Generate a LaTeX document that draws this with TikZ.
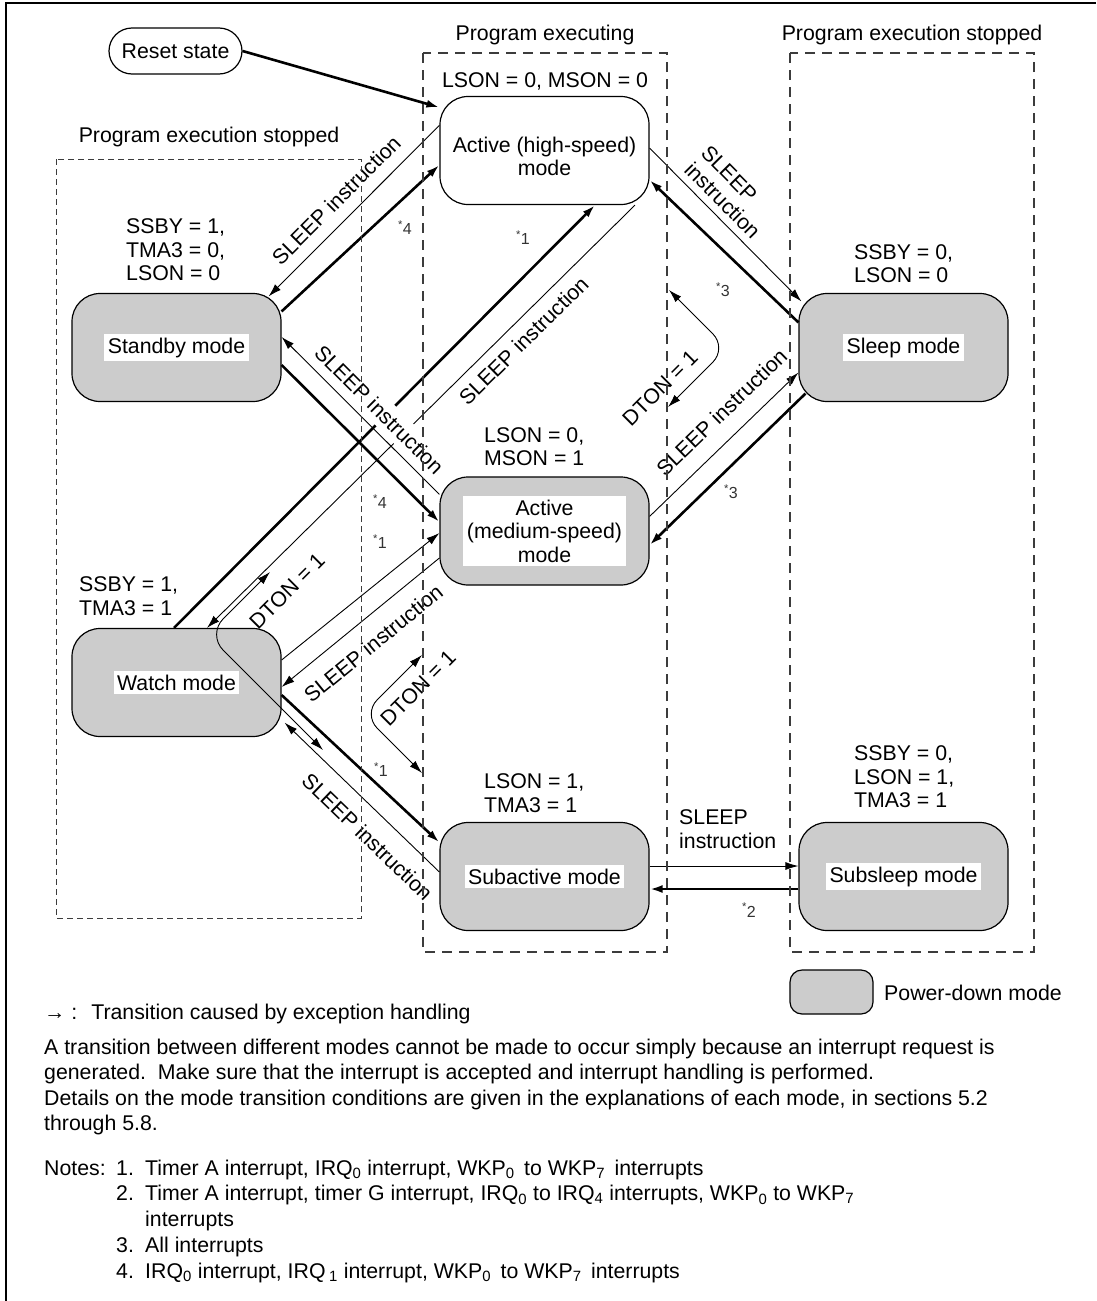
\documentclass[tikz,border=0pt]{standalone}
\usepackage{fontspec}
\setmainfont{Liberation Sans}
\usepackage{xcolor}
\usepackage{tikz}
\usetikzlibrary{arrows.meta}
\definecolor{GrayMode}{RGB}{204,204,204}
\definecolor{GrayZone}{RGB}{60,60,60}

\begin{document}
\fontsize{21.3}{23.5}\selectfont
\begin{tikzpicture}[x=1pt,y=-1pt,>={Latex[length=13pt,width=8pt]},
  modebox/.style={draw,line width=1.2pt,fill=GrayMode,rounded corners=28pt,minimum width=209pt,minimum height=108pt},
  labelbg/.style={fill=white,inner xsep=3.5pt,inner ysep=3.5pt,align=center},
  txt/.style={inner sep=0pt,align=left},
  thinarr/.style={->,line width=0.9pt},
  boldarr/.style={->,line width=2.6pt},
  sleeplbl/.style={sloped,inner sep=1pt},
  starlbl/.style={inner sep=0pt,font=\fontsize{16}{18}\selectfont,text=black!80},
  zone/.style={line width=1.2pt,GrayZone,dash pattern=on 10pt off 7pt},
  zonedot/.style={line width=1pt,GrayZone,dash pattern=on 6pt off 4pt}]
  \useasboundingbox (0,0) rectangle (1096,1301);
  \draw[line width=1.2pt] (6,1301) -- (6,3) -- (1096,3);

  \node[txt,anchor=base] (exec) at (545,40.5) {Program executing};
  \node[txt,anchor=base] (stopR) at (912,40.5) {Program execution stopped};
  \node[txt,anchor=base] (stopL) at (209,142.5) {Program execution stopped};

  \node[draw,line width=1.2pt,rounded corners=23pt,minimum width=133pt,minimum height=46pt] (reset) at (175.5,51) {Reset state};

  \node[modebox,fill=white] (active) at (544.5,150.5) {};
  \node[txt,align=center] (activeT) at (544.5,156.5) {Active (high-speed)\\mode};
  \node[modebox] (standby) at (176.5,347.5) {};
  \node[labelbg] (standbyT) at (standby) {Standby mode};
  \node[modebox] (sleep) at (903.5,347.5) {};
  \node[labelbg] (sleepT) at (sleep) {Sleep mode};
  \node[modebox] (medium) at (544.5,531) {};
  \node[labelbg] (mediumT) at (medium) {Active\\(medium-speed)\\mode};
  \node[modebox] (watch) at (176.5,682.5) {};
  \node[labelbg] (watchT) at (watch) {Watch mode};
  \node[modebox] (subactive) at (544.5,876.5) {};
  \node[labelbg] (subactiveT) at (subactive) {Subactive mode};
  \node[modebox] (subsleep) at (903.5,876.5) {};
  \node[labelbg] (subsleepT) at (subsleep) {Subsleep mode};

  \node[txt,anchor=base] (condA) at (545,87.5) {LSON = 0, MSON = 0};
  \node[txt,anchor=west] (condSb) at (126,250) {SSBY = 1,\\TMA3 = 0,\\LSON = 0};
  \node[txt,anchor=west] (condSl) at (854,263.5) {SSBY = 0,\\LSON = 0};
  \node[txt,anchor=west] (condM) at (484,446.5) {LSON = 0,\\MSON = 1};
  \node[txt,anchor=west] (condW) at (79,596) {SSBY = 1,\\TMA3 = 1};
  \node[txt,anchor=west] (condSa) at (484,793) {LSON = 1,\\TMA3 = 1};
  \node[txt,anchor=west] (condSs) at (854,777) {SSBY = 0,\\LSON = 1,\\TMA3 = 1};

  \draw[boldarr] (reset.east) -- ([yshift=-11.5pt]active.north west);
  \draw[thinarr] ([yshift=-29.5pt]active.north west) -- node[sleeplbl,pos=0.52,above=11pt] (slp1) {SLEEP instruction} ([xshift=-13pt,yshift=-3.5pt]standby.north east);
  \draw[boldarr] ([yshift=-18.5pt]standby.north east) -- ([yshift=-14.5pt]active.west);
  \draw[thinarr] ([yshift=2.5pt]active.east) -- node[sleeplbl,pos=0.41,above=6pt,align=left] (slp2) {SLEEP\\instruction} ([xshift=3pt,yshift=-8.5pt]sleep.north west);
  \draw[boldarr] ([yshift=-29.5pt]sleep.north west) -- ([yshift=-29.5pt]active.east);
  \draw[thinarr] ([yshift=-40pt]medium.north east) -- node[sleeplbl,pos=0.6,above=15.5pt] (slp3) {SLEEP instruction} ([yshift=29.5pt]sleep.south west);
  \draw[boldarr] ([xshift=7pt,yshift=8.5pt]sleep.south west) -- ([yshift=-14pt]medium.east);
  \draw[boldarr] ([xshift=-2.5pt]watch.north) -- ([xshift=50.5pt]active.south);
  \draw[thinarr] ([xshift=90.5pt]active.south) -- node[sleeplbl,pos=0.29,below=8.8pt] (slp4) {SLEEP instruction} ([xshift=30.5pt]watch.north);
  \draw[thinarr] ([yshift=-18pt]medium.north west) -- node[sleeplbl,pos=0.46,above=3.4pt,fill=white,inner sep=6pt] (slp5) {SLEEP instruction} ([yshift=10.5pt]standby.east);
  \draw[boldarr] ([yshift=-17.5pt]standby.east) -- ([yshift=9pt]medium.west);
  \draw[thinarr] ([yshift=22.5pt]watch.east) -- ([yshift=-2pt]medium.west);
  \draw[thinarr] ([yshift=-27pt]medium.west) -- node[sleeplbl,pos=0.516,below=15pt] (slp6) {SLEEP instruction} ([yshift=-4.5pt]watch.east);
  \draw[boldarr] ([yshift=-12.5pt]watch.east) -- ([yshift=-20.5pt]subactive.north west);
  \draw[thinarr] ([yshift=4.5pt]subactive.west) -- node[sleeplbl,pos=0.355,below=15.3pt] (slp7) {SLEEP instruction} ([xshift=3pt,yshift=14.5pt]watch.south east);
  \draw[thinarr] ([yshift=10.5pt]subactive.east) -- ([yshift=10.5pt]subsleep.west);
  \draw[boldarr] ([yshift=-12.5pt]subsleep.west) -- ([yshift=-12.5pt]subactive.east);
  \node[txt,anchor=west] (slp8) at (679,829) {SLEEP\\instruction};

  \coordinate (dtU1) at (669,290);
  \coordinate (dtU2) at (727,348);
  \coordinate (dtU3) at (668,407);
  \coordinate (dtL1) at (270,572);
  \coordinate (dtL2) at (207.5,634.5);
  \coordinate (dtL3) at (323,750);
  \coordinate (dtM1) at (422,655);
  \coordinate (dtM2) at (363,714);
  \coordinate (dtM3) at (422,773);
  \draw[<->,line width=0.9pt,rounded corners=20pt] (dtU1) -- (dtU2) -- (dtU3);
  \draw[<->,line width=0.9pt,rounded corners=22pt] (dtL1) -- (dtL2) -- (dtL3);
  \draw[<->,line width=0.9pt,rounded corners=20pt] (dtM1) -- (dtM2) -- (dtM3);
  \node[txt,rotate=45] (dtonU) at (660,388) {DTON = 1};
  \node[txt,rotate=45] (dtonL) at (287,591) {DTON = 1};
  \node[txt,rotate=45] (dtonM) at (418,688) {DTON = 1};

  \node[starlbl] (st4a) at (405,228) {\textsuperscript{*}4};
  \node[starlbl] (st1a) at (523,238) {\textsuperscript{*}1};
  \node[starlbl] (st3a) at (723,290) {\textsuperscript{*}3};
  \node[starlbl] (st3b) at (731,492) {\textsuperscript{*}3};
  \node[starlbl] (st4b) at (380,502) {\textsuperscript{*}4};
  \node[starlbl] (st1b) at (380,542) {\textsuperscript{*}1};
  \node[starlbl] (st1c) at (381,770) {\textsuperscript{*}1};
  \node[starlbl] (st2a) at (749,910) {\textsuperscript{*}2};

  \node[draw,line width=1.2pt,fill=GrayMode,rounded corners=12pt,minimum width=83pt,minimum height=44pt] (legend) at (831.5,992) {};
  \node[txt,anchor=base west] (legendT) at (884,1000.5) {Power-down mode};
  \node[txt,anchor=base west] (key) at (44,1019.5) {→ :\hspace{14pt}Transition caused by exception handling};

  \node[txt,anchor=base west] (par1) at (44,1054.5) {A transition between different modes cannot be made to occur simply because an interrupt request is};
  \node[txt,anchor=base west] (par2) at (44,1079.8) {generated.\ \ Make sure that the interrupt is accepted and interrupt handling is performed.};
  \node[txt,anchor=base west] (par3) at (44,1105.1) {Details on the mode transition conditions are given in the explanations of each mode, in sections 5.2};
  \node[txt,anchor=base west] (par4) at (44,1130.4) {through 5.8.};

  \node[txt,anchor=base west] (notes) at (44,1175) {Notes:};
  \foreach \n/\yb in {1/1175,2/1200.8,3/1252.4,4/1278.2}
    \node[txt,anchor=base west] (num\n) at (116,\yb) {\n.};
  \node[txt,anchor=base west] (note1) at (145,1175) {Timer A interrupt, IRQ\textsubscript{0} interrupt, WKP\textsubscript{0}\, to WKP\textsubscript{7}\, interrupts};
  \node[txt,anchor=base west] (note2) at (145,1200.8) {Timer A interrupt, timer G interrupt, IRQ\textsubscript{0} to IRQ\textsubscript{4} interrupts, WKP\textsubscript{0} to WKP\textsubscript{7}};
  \node[txt,anchor=base west] (note2b) at (145,1226.6) {interrupts};
  \node[txt,anchor=base west] (note3) at (145,1252.4) {All interrupts};
  \node[txt,anchor=base west] (note4) at (145,1278.2) {IRQ\textsubscript{0} interrupt, IRQ\,\textsubscript{1} interrupt, WKP\textsubscript{0}\, to WKP\textsubscript{7}\, interrupts};

  \draw[zonedot] (56,159) rectangle (361,918);
  \draw[zone] (423,53) rectangle (667,952);
  \draw[zone] (790,53) rectangle (1034,952);
\end{tikzpicture}
\end{document}
